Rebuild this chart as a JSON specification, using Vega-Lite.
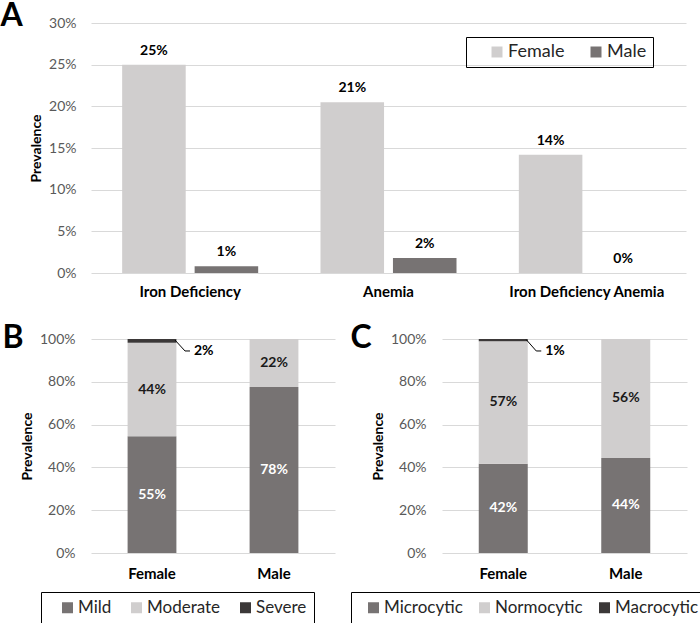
{
  "$schema": "https://vega.github.io/schema/vega-lite/v6.json",
  "padding": 0,
  "background": "white",
  "config": {
    "font": "Lato",
    "view": {"stroke": null},
    "axis": {"labelFont": "Lato", "titleFont": "Lato", "labelColor": "#595959", "titleColor": "#000000", "gridColor": "#d9d9d9", "domain": false, "ticks": false},
    "axisX": {"grid": false, "labelAngle": 0, "labelFontWeight": "bold", "labelColor": "#000000", "labelFontSize": 15, "labelPadding": 13, "title": null},
    "axisY": {"labelFontSize": 14, "labelPadding": 14, "titleFontSize": 14, "titleFontWeight": "bold", "titlePadding": 5},
    "legend": {"labelFont": "Lato", "labelColor": "#262626", "labelFontSize": 17, "labelOffset": 2, "symbolType": "square", "symbolSize": 121, "symbolStrokeWidth": 0, "strokeColor": "#000000", "direction": "horizontal", "orient": "none", "title": null},
    "title": {"font": "Lato", "fontSize": 32, "fontWeight": "bold", "color": "#000000", "anchor": "start", "frame": "bounds", "baseline": "top", "offset": 0}
  },
  "spacing": 23,
  "resolve": {"scale": {"color": "independent"}},
  "vconcat": [
    {
      "width": 595,
      "height": 250,
      "title": {"text": "A", "dx": -29, "dy": 21},
      "data": {"values": [
        {"cat": "Iron Deficiency", "sex": "Female", "v": 25.0, "label": "25%"},
        {"cat": "Iron Deficiency", "sex": "Male", "v": 0.8, "label": "1%"},
        {"cat": "Anemia", "sex": "Female", "v": 20.5, "label": "21%"},
        {"cat": "Anemia", "sex": "Male", "v": 1.8, "label": "2%"},
        {"cat": "Iron Deficiency Anemia", "sex": "Female", "v": 14.2, "label": "14%"},
        {"cat": "Iron Deficiency Anemia", "sex": "Male", "v": 0, "label": "0%"}
      ]},
      "encoding": {
        "x": {"field": "cat", "type": "nominal", "sort": ["Iron Deficiency", "Anemia", "Iron Deficiency Anemia"], "scale": {"paddingInner": 0, "paddingOuter": 0}, "axis": {"labelPadding": 11}},
        "xOffset": {"field": "sex", "type": "nominal", "sort": ["Female", "Male"], "scale": {"paddingInner": 0.123, "paddingOuter": 0.43}},
        "y": {"field": "v", "type": "quantitative", "title": "Prevalence", "scale": {"domain": [0, 30]}, "axis": {"values": [0, 5, 10, 15, 20, 25, 30], "labelExpr": "datum.value + '%'", "labelPadding": 15}}
      },
      "layer": [
        {"mark": {"type": "bar"}, "encoding": {"color": {"field": "sex", "type": "nominal", "scale": {"domain": ["Female", "Male"], "range": ["#d0cece", "#777373"]}, "legend": {"legendX": 375, "legendY": 14, "padding": 6, "columnPadding": 6, "symbolOffset": 16, "labelFontSize": 18}}}},
        {"mark": {"type": "text", "baseline": "bottom", "dy": -7, "fontWeight": "bold", "fontSize": 14, "color": "#000000"}, "encoding": {"text": {"field": "label"}}}
      ]
    },
    {
      "hconcat": [
        {
          "width": 244,
          "height": 214,
          "title": {"text": "B", "dx": -18, "dy": 27},
          "data": {"values": [
            {"sex": "Female", "sev": "Mild", "v": 54.5, "label": "55%", "k": 1},
            {"sex": "Female", "sev": "Moderate", "v": 43.7, "label": "44%", "k": 2},
            {"sex": "Female", "sev": "Severe", "v": 1.8, "label": "", "k": 3},
            {"sex": "Male", "sev": "Mild", "v": 77.6, "label": "78%", "k": 1},
            {"sex": "Male", "sev": "Moderate", "v": 22.4, "label": "22%", "k": 2}
          ]},
          "encoding": {
            "x": {"field": "sex", "type": "nominal", "scale": {"domain": ["Female", "Male"], "paddingInner": 0.6, "paddingOuter": 0.3}}
          },
          "layer": [
            {"mark": {"type": "bar"}, "encoding": {
              "y": {"field": "v", "type": "quantitative", "stack": "zero", "title": "Prevalence", "scale": {"domain": [0, 100]}, "axis": {"values": [0, 10, 20, 30, 40, 50, 60, 70, 80, 90, 100], "labelExpr": "datum.value + '%'", "labelPadding": 16}},
              "color": {"field": "sev", "type": "nominal", "scale": {"domain": ["Mild", "Moderate", "Severe"], "range": ["#777373", "#d0cece", "#3b3838"]}, "legend": {"legendX": -50, "legendY": 253, "padding": 7, "columnPadding": 5, "symbolOffset": 11}},
              "order": {"field": "k", "type": "quantitative"}
            }},
            {"mark": {"type": "text", "fontWeight": "bold", "fontSize": 14}, "encoding": {
              "y": {"field": "v", "type": "quantitative", "stack": "zero", "bandPosition": 0.5, "title": "Prevalence"},
              "detail": {"field": "sev"},
              "order": {"field": "k", "type": "quantitative"},
              "text": {"field": "label"},
              "color": {"condition": {"test": "datum.sev === 'Mild'", "value": "#ffffff"}, "value": "#1a1a1a"}
            }},
            {"data": {"values": [{"sex": "Female", "top": 99.5, "bend": 94.4, "label": "2%"}]}, "layer": [
              {"mark": {"type": "rule", "xOffset": 23, "x2Offset": 33, "color": "#000000", "strokeWidth": 1}, "encoding": {"x2": {"field": "sex"}, "y": {"field": "top", "type": "quantitative", "title": "Prevalence"}, "y2": {"field": "bend"}}},
              {"mark": {"type": "rule", "xOffset": 33, "x2Offset": 38, "color": "#000000", "strokeWidth": 1}, "encoding": {"x2": {"field": "sex"}, "y": {"field": "bend", "type": "quantitative", "title": "Prevalence"}}},
              {"mark": {"type": "text", "dx": 42, "align": "left", "baseline": "middle", "fontWeight": "bold", "fontSize": 14, "color": "#000000"}, "encoding": {"y": {"field": "bend", "type": "quantitative", "title": "Prevalence"}, "text": {"field": "label"}}}
            ]}
          ]
        },
        {
          "width": 245,
          "height": 214,
          "title": {"text": "C", "dx": 0, "dy": 27},
          "data": {"values": [
            {"sex": "Female", "typ": "Microcytic", "v": 41.7, "label": "42%", "k": 1},
            {"sex": "Female", "typ": "Normocytic", "v": 57.3, "label": "57%", "k": 2},
            {"sex": "Female", "typ": "Macrocytic", "v": 1.0, "label": "", "k": 3},
            {"sex": "Male", "typ": "Microcytic", "v": 44.4, "label": "44%", "k": 1},
            {"sex": "Male", "typ": "Normocytic", "v": 55.6, "label": "56%", "k": 2}
          ]},
          "encoding": {
            "x": {"field": "sex", "type": "nominal", "scale": {"domain": ["Female", "Male"], "paddingInner": 0.6, "paddingOuter": 0.3}}
          },
          "layer": [
            {"mark": {"type": "bar"}, "encoding": {
              "y": {"field": "v", "type": "quantitative", "stack": "zero", "title": "Prevalence", "scale": {"domain": [0, 100]}, "axis": {"values": [0, 10, 20, 30, 40, 50, 60, 70, 80, 90, 100], "labelExpr": "datum.value + '%'", "labelPadding": 16}},
              "color": {"field": "typ", "type": "nominal", "scale": {"domain": ["Microcytic", "Normocytic", "Macrocytic"], "range": ["#777373", "#d0cece", "#3b3838"]}, "legend": {"legendX": -91, "legendY": 253, "padding": 7, "columnPadding": 6, "symbolOffset": 7}},
              "order": {"field": "k", "type": "quantitative"}
            }},
            {"mark": {"type": "text", "fontWeight": "bold", "fontSize": 14}, "encoding": {
              "y": {"field": "v", "type": "quantitative", "stack": "zero", "bandPosition": 0.5, "title": "Prevalence"},
              "detail": {"field": "typ"},
              "order": {"field": "k", "type": "quantitative"},
              "text": {"field": "label"},
              "color": {"condition": {"test": "datum.typ === 'Microcytic'", "value": "#ffffff"}, "value": "#1a1a1a"}
            }},
            {"data": {"values": [{"sex": "Female", "top": 99.7, "bend": 94.4, "label": "1%"}]}, "layer": [
              {"mark": {"type": "rule", "xOffset": 23, "x2Offset": 33, "color": "#000000", "strokeWidth": 1}, "encoding": {"x2": {"field": "sex"}, "y": {"field": "top", "type": "quantitative", "title": "Prevalence"}, "y2": {"field": "bend"}}},
              {"mark": {"type": "rule", "xOffset": 33, "x2Offset": 38, "color": "#000000", "strokeWidth": 1}, "encoding": {"x2": {"field": "sex"}, "y": {"field": "bend", "type": "quantitative", "title": "Prevalence"}}},
              {"mark": {"type": "text", "dx": 42, "align": "left", "baseline": "middle", "fontWeight": "bold", "fontSize": 14, "color": "#000000"}, "encoding": {"y": {"field": "bend", "type": "quantitative", "title": "Prevalence"}, "text": {"field": "label"}}}
            ]}
          ]
        }
      ],
      "spacing": 15,
      "resolve": {"scale": {"color": "independent"}}
    }
  ]
}
